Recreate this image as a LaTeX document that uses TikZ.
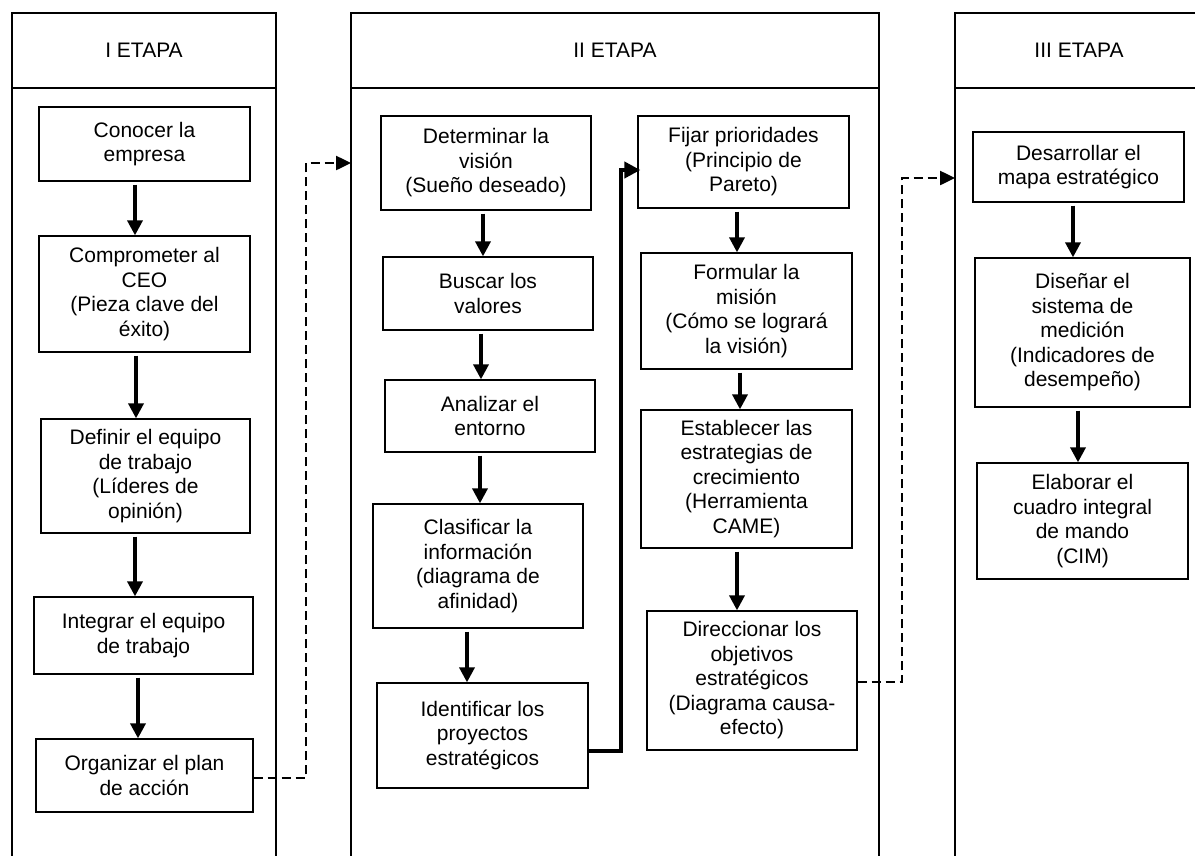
\documentclass[tikz,border=0pt]{standalone}
\usepackage{fontspec}
\setmainfont{Liberation Sans}
\usetikzlibrary{arrows.meta}
\begin{document}
\begin{tikzpicture}[x=1pt,y=-1pt,
  box/.style={draw, line width=1.3pt, align=center, inner sep=0pt, font=\fontsize{21}{24.5}\selectfont},
  hdr/.style={inner sep=0pt, font=\fontsize{21}{24.5}\selectfont},
  lane/.style={line width=2pt},
  arr/.style={line width=3.5pt, -{Triangle[length=15pt,width=15pt]}, shorten <=3pt},
  darr/.style={line width=2.5pt, dash pattern=on 9pt off 5pt, -{Triangle[length=15pt,width=14pt]}},
  bigline/.style={line width=4pt, -{Triangle[length=16pt,width=16pt]}}
]
\useasboundingbox (0,0) rectangle (1195,855);
\clip (0,0) rectangle (1195,855);

% lanes
\draw[lane] (12,870) -- (12,13) -- (276,13) -- (276,870);
\draw[lane] (12,88) -- (276,88);
\draw[lane] (351,870) -- (351,13) -- (879,13) -- (879,870);
\draw[lane] (351,88) -- (879,88);
\draw[lane] (955,870) -- (955,13) -- (1203,13) -- (1203,870);
\draw[lane] (955,88) -- (1203,88);
\node[hdr] (h1) at (144,50.5) {I ETAPA};
\node[hdr] (h2) at (615,50.5) {II ETAPA};
\node[hdr] (h3) at (1079,50.5) {III ETAPA};
\coordinate (in2) at (351,163);
\coordinate (in3) at (955,178);

% lane I
\node[box, minimum width=211pt, minimum height=74pt] (c1) at (144.5,144) {Conocer la\\empresa};
\node[box, minimum width=211pt, minimum height=116pt] (c2) at (144.5,294) {Comprometer al\\CEO\\(Pieza clave del\\éxito)};
\node[box, minimum width=209pt, minimum height=114pt] (c3) at (145.5,476) {Definir el equipo\\de trabajo\\(Líderes de\\opinión)};
\node[box, minimum width=219pt, minimum height=77pt] (c4) at (143.5,635.5) {Integrar el equipo\\de trabajo};
\node[box, minimum width=217pt, minimum height=73pt] (c5) at (144.5,775.5) {Organizar el plan\\de acción};
\draw[arr] (c1.south -| 135,0) -- (c2.north -| 135,0);
\draw[arr] (c2.south -| 136,0) -- (c3.north -| 136,0);
\draw[arr] (c3.south -| 135,0) -- (c4.north -| 135,0);
\draw[arr] (c4.south -| 138,0) -- (c5.north -| 138,0);

% lane II left
\node[box, minimum width=210pt, minimum height=94pt] (d1) at (486,163) {Determinar la\\visión\\(Sueño deseado)};
\node[box, minimum width=210pt, minimum height=73pt] (d2) at (488,293.5) {Buscar los\\valores};
\node[box, minimum width=210pt, minimum height=72pt] (d3) at (490,416) {Analizar el\\entorno};
\node[box, minimum width=210pt, minimum height=124pt] (d4) at (478,566) {Clasificar la\\información\\(diagrama de\\afinidad)};
\node[box, minimum width=211pt, minimum height=105pt] (d5) at (482.5,735.5) {Identificar los\\proyectos\\estratégicos};
\draw[arr] (d1.south -| 483,0) -- (d2.north -| 483,0);
\draw[arr] (d2.south -| 481,0) -- (d3.north -| 481,0);
\draw[arr] (d3.south -| 480,0) -- (d4.north -| 480,0);
\draw[arr] (d4.south -| 467,0) -- (d5.north -| 467,0);

% lane II right
\node[box, minimum width=211pt, minimum height=92pt] (e1) at (743.5,162) {Fijar prioridades\\(Principio de\\Pareto)};
\node[box, minimum width=211pt, minimum height=116pt] (e2) at (746.5,311) {Formular la\\misión\\(Cómo se logrará\\la visión)};
\node[box, minimum width=211pt, minimum height=138pt] (e3) at (746.5,479) {Establecer las\\estrategias de\\crecimiento\\(Herramienta\\CAME)};
\node[box, minimum width=210pt, minimum height=139pt] (e4) at (752,680.5) {Direccionar los\\objetivos\\estratégicos\\(Diagrama causa-\\efecto)};
\draw[arr] (e1.south -| 737,0) -- (e2.north -| 737,0);
\draw[arr] (e2.south -| 740,0) -- (e3.north -| 740,0);
\draw[arr] (e3.south -| 737,0) -- (e4.north -| 737,0);

% lane III
\node[box, minimum width=211pt, minimum height=70pt] (f1) at (1078.5,167) {Desarrollar el\\mapa estratégico};
\node[box, minimum width=215pt, minimum height=149pt] (f2) at (1082.5,332.5) {Diseñar el\\sistema de\\medición\\(Indicadores de\\desempeño)};
\node[box, minimum width=211pt, minimum height=116pt] (f3) at (1082.5,521) {Elaborar el\\cuadro integral\\de mando\\(CIM)};
\draw[arr] (f1.south -| 1073,0) -- (f2.north -| 1073,0);
\draw[arr] (f2.south -| 1078,0) -- (f3.north -| 1078,0);

% connectors between stages
\draw[darr] (c5.east |- 0,778) -- (306,778) -- (306,163) -- (in2);
\draw[bigline] (d5.east |- 0,751) -- (621,751) -- (621,170) -- ([xshift=3pt]e1.west |- 0,170);
\draw[darr] (e4.east |- 0,682) -- (902,682) -- (902,178) -- (in3);
\end{tikzpicture}
\end{document}
